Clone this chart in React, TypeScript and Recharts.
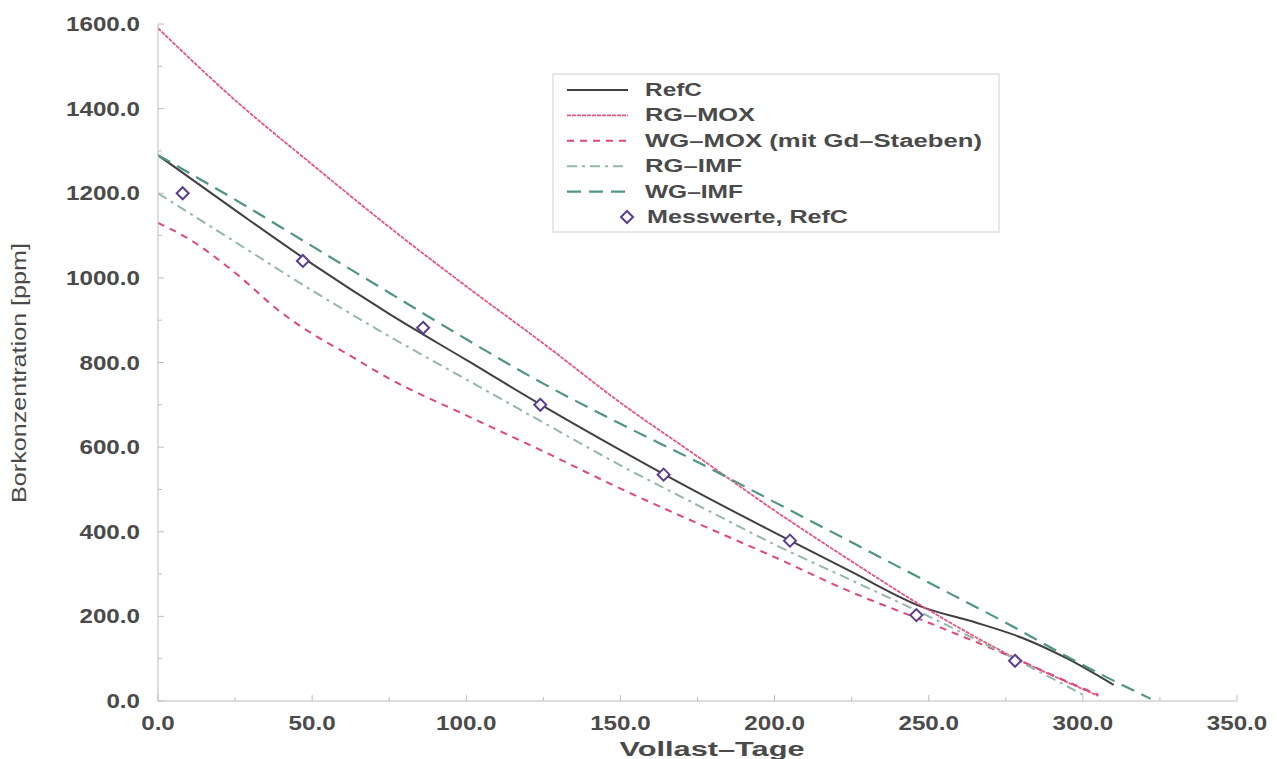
import { ComposedChart, Line, Scatter, XAxis, YAxis } from "recharts";

// Vollast-Tage / Borkonzentration, one pair of arrays per curve
const refcDays = [0, 25, 50, 75, 100, 125, 150, 175, 200, 225, 248, 265, 280, 295, 310];
const refcPpm = [1290, 1160, 1033, 915, 806, 697, 593, 493, 398, 305, 222, 186, 150, 100, 38];

const rgMoxDays = [0, 25, 50, 75, 100, 125, 150, 175, 200, 225, 250, 275, 300, 305];
const rgMoxPpm = [1590, 1420, 1268, 1120, 980, 845, 705, 578, 450, 330, 215, 113, 28, 12];

const wgMoxDays = [0, 10, 25, 40, 50, 60, 75, 100, 125, 150, 175, 200, 225, 250, 275, 300, 305];
const wgMoxPpm = [1130, 1092, 1012, 918, 868, 826, 762, 675, 590, 502, 420, 340, 257, 185, 110, 30, 15];

const rgImfDays = [0, 25, 50, 75, 100, 125, 150, 175, 200, 225, 250, 275, 300];
const rgImfPpm = [1200, 1085, 970, 862, 760, 658, 557, 463, 370, 285, 200, 110, 15];

const wgImfDays = [0, 25, 50, 75, 100, 125, 150, 175, 200, 225, 250, 275, 300, 322];
const wgImfPpm = [1290, 1185, 1075, 965, 855, 750, 655, 565, 470, 375, 280, 185, 85, 5];

const messDays = [8, 47, 86, 124, 164, 205, 246, 278];
const messPpm = [1200, 1040, 882, 700, 535, 379, 203, 95];

const xTicks = [0, 25, 50, 75, 100, 125, 150, 175, 200, 225, 250, 275, 300, 325, 350];
const yTicks = [0, 100, 200, 300, 400, 500, 600, 700, 800, 900, 1000, 1100, 1200, 1300, 1400, 1500, 1600];

const zip = (xs: number[], ys: number[]) => xs.map((x, i) => ({ x, y: ys[i] }));

const series = [
  { name: "RefC", data: zip(refcDays, refcPpm), color: "#404040", dash: undefined, width: 2 },
  { name: "RG\u2013MOX", data: zip(rgMoxDays, rgMoxPpm), color: "#e4587a", dash: "4 1", width: 1.8 },
  { name: "WG\u2013MOX (mit Gd\u2013Staeben)", data: zip(wgMoxDays, wgMoxPpm), color: "#e0457c", dash: "7 6", width: 2 },
  { name: "RG\u2013IMF", data: zip(rgImfDays, rgImfPpm), color: "#94b8a4", dash: "10 5 3 5", width: 2 },
  { name: "WG\u2013IMF", data: zip(wgImfDays, wgImfPpm), color: "#4f9487", dash: "14 8", width: 2.2 },
];
const messwerte = zip(messDays, messPpm);
const markerColor = "#5a3c90";

const legendWidths = [57, 110, 337, 97, 98, 201];

const FONT = '"Liberation Sans", Arial, Helvetica, sans-serif';
const AXIS = "#bdbdbd";
const TEXT = "#4a4a4a";
const fmt = (v: number) => v.toFixed(1);

const BottomTick = ({ x, y, payload }: any) => {
  const major = payload.value % 50 === 0;
  return (
    <g>
      <line x1={x} y1={y} x2={x} y2={y - (major ? 6 : 4)} stroke={AXIS} />
      {major && (
        <text transform={`translate(${x},${y + 29}) scale(1.21,1)`} textAnchor="middle"
          fontFamily={FONT} fontWeight="bold" fontSize={20} fill={TEXT}>
          {fmt(payload.value)}
        </text>
      )}
    </g>
  );
};

const TopTick = ({ x, y, payload }: any) => (
  <line x1={x} y1={y} x2={x} y2={y + (payload.value % 50 === 0 ? 6 : 4)} stroke={AXIS} />
);

const LeftTick = ({ x, y, payload }: any) => {
  const major = payload.value % 200 === 0;
  return (
    <g>
      <line x1={x} y1={y} x2={x + (major ? 6 : 4)} y2={y} stroke={AXIS} />
      {major && (
        <text transform={`translate(${x - 18},${y + 7}) scale(1.21,1)`} textAnchor="end"
          fontFamily={FONT} fontWeight="bold" fontSize={20} fill={TEXT}>
          {fmt(payload.value)}
        </text>
      )}
    </g>
  );
};

const RightTick = ({ x, y, payload }: any) => (
  <line x1={x} y1={y} x2={x - (payload.value % 200 === 0 ? 6 : 4)} y2={y} stroke={AXIS} />
);

const Diamond = ({ cx, cy }: any) => (
  <polygon points={`${cx},${cy - 6} ${cx + 6},${cy} ${cx},${cy + 6} ${cx - 6},${cy}`}
    fill="#ffffff" stroke={markerColor} strokeWidth={2} />
);

const LegendBox = () => (
  <svg width={450} height={162} style={{ position: "absolute", left: 552, top: 73 }}>
    <rect x={1} y={1} width={446} height={158} fill="#ffffff" stroke="#cfcfcf" />
    {series.map((s, i) => {
      const cy = 17 + i * 25.4;
      return (
        <g key={s.name}>
          <line x1={15} x2={76} y1={cy} y2={cy} stroke={s.color} strokeWidth={s.width}
            strokeDasharray={s.dash} />
          <text x={93} y={cy + 6} fontFamily={FONT} fontWeight="bold" fontSize={18} fill={TEXT}
            textLength={legendWidths[i]} lengthAdjust="spacingAndGlyphs">
            {s.name}
          </text>
        </g>
      );
    })}
    <Diamond cx={75} cy={17 + 5 * 25.4} />
    <text x={95} y={17 + 5 * 25.4 + 6} fontFamily={FONT} fontWeight="bold" fontSize={18} fill={TEXT}
      textLength={legendWidths[5]} lengthAdjust="spacingAndGlyphs">
      Messwerte, RefC
    </text>
  </svg>
);

export default function App() {
  return (
    <div style={{ position: "absolute", left: 0, top: 0, width: 1277, height: 759, background: "#ffffff" }}>
      <ComposedChart width={1277} height={759} margin={{ top: 24, right: 40, bottom: 8, left: 58 }}>
        <XAxis dataKey="x" type="number" domain={[0, 350]} ticks={xTicks} interval={0}
          allowDataOverflow height={50} tickSize={0} tickMargin={0} tickLine={false}
          axisLine={{ stroke: AXIS }} tick={<BottomTick />}
          label={({ viewBox }: any) => (
            <text x={712} y={viewBox.y + 55} textAnchor="middle" fontFamily={FONT} fontWeight="bold"
              fontSize={20} fill={TEXT} textLength={185} lengthAdjust="spacingAndGlyphs">
              Vollast–Tage
            </text>
          )} />
        <XAxis xAxisId="top" orientation="top" type="number" domain={[0, 350]} ticks={xTicks}
          interval={0} height={0} tickSize={0} tickMargin={0} tickLine={false}
          axisLine={{ stroke: AXIS }} tick={<TopTick />} />
        <YAxis type="number" domain={[0, 1600]} ticks={yTicks} interval={0} width={100}
          allowDataOverflow tickSize={0} tickMargin={0} tickLine={false}
          axisLine={{ stroke: AXIS }} tick={<LeftTick />}
          label={() => (
            <text transform="translate(26,373) rotate(-90)" textAnchor="middle" fontFamily={FONT}
              fontSize={21} fill={TEXT} textLength={260} lengthAdjust="spacingAndGlyphs">
              Borkonzentration [ppm]
            </text>
          )} />
        <YAxis yAxisId="right" orientation="right" type="number" domain={[0, 1600]} ticks={yTicks}
          interval={0} width={0} tickSize={0} tickMargin={0} tickLine={false}
          axisLine={{ stroke: AXIS }} tick={<RightTick />} />
        {series.map((s) => (
          <Line key={s.name} data={s.data} dataKey="y" name={s.name} type="monotone"
            stroke={s.color} strokeWidth={s.width} strokeDasharray={s.dash} dot={false}
            activeDot={false} isAnimationActive={false} />
        ))}
        <Scatter data={messwerte} dataKey="y" name="Messwerte, RefC" shape={<Diamond />}
          isAnimationActive={false} />
      </ComposedChart>
      <LegendBox />
    </div>
  );
}
